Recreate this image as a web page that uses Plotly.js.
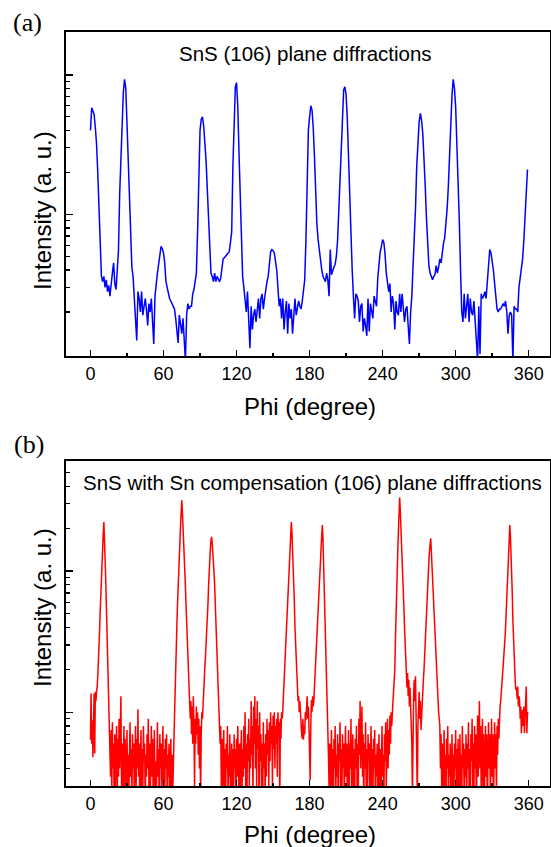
<!DOCTYPE html>
<html>
<head>
<meta charset="utf-8">
<script src="https://cdn.plot.ly/plotly-3.0.1.min.js"></script>
<style>
  html, body { margin: 0; padding: 0; background: #fff; }
  #chart { width: 551px; height: 847px; }
</style>
</head>
<body>
<div id="chart"></div>
<script>
// ---------------- DATA ----------------
// Panel (a): SnS (106) phi scan, 1 degree per point, each row = 10 degrees (0..359)
const phiStepA = 1;
const intensityA = [
  [40, 58, 55, 52, 42, 32, 20, 11, 6.8, 3.6],
  [3.3, 3.6, 3.0, 3.4, 2.8, 3.1, 2.6, 3.3, 3.8, 4.5],
  [3.2, 2.9, 4.6, 5.5, 14, 26, 48, 75, 93, 80],
  [45, 23, 11, 6, 4.2, 3.6, 2.6, 1.8, 1.25, 2.8],
  [2.5, 2.0, 2.8, 1.9, 2.2, 2.5, 2.1, 1.6, 2.3, 2.0],
  [2.5, 1.5, 1.18, 2.6, 3.4, 3.8, 4.4, 5.2, 5.9, 5.7],
  [5.3, 4.5, 3.3, 3.0, 2.7, 2.5, 2.4, 2.3, 2.2, 2.1],
  [1.8, 1.5, 1.2, 1.9, 1.6, 1.4, 1.8, 1.3, 0.9, 1.9],
  [2.3, 2.1, 2.2, 2.2, 2.7, 2.9, 3.3, 3.8, 7.5, 25],
  [40, 48, 50, 43, 33, 24, 15, 9, 6, 3.8],
  [3.6, 3.3, 3.8, 3.3, 3.6, 3.4, 3.3, 3.5, 4.2, 4.8],
  [4.9, 5.0, 5.1, 5.2, 5.4, 6.3, 7.5, 22, 50, 82],
  [88, 60, 28, 12, 5.5, 3.6, 3.0, 2.5, 2.0, 2.8],
  [1.6, 1.1, 2.2, 1.5, 1.9, 2.1, 1.7, 2.2, 2.5, 1.8],
  [2.5, 2.7, 2.1, 2.5, 3.0, 3.3, 3.6, 4.6, 5.4, 5.6],
  [5.5, 5.3, 4.6, 4.0, 3.0, 2.2, 2.5, 1.8, 2.5, 1.5],
  [2.0, 2.4, 1.4, 2.3, 1.8, 2.1, 1.4, 2.0, 2.5, 1.9],
  [2.2, 2.4, 2.2, 2.1, 2.4, 2.8, 3.4, 6.5, 17, 40],
  [50, 60, 56, 42, 26, 13, 8.5, 6.6, 5.4, 4.5],
  [4.0, 3.6, 3.4, 3.3, 3.8, 3.4, 2.6, 5.6, 3.7, 4.0],
  [4.2, 4.4, 5.0, 6.5, 11, 20, 32, 55, 78, 82],
  [72, 48, 25, 12, 6.5, 4.0, 2.6, 1.8, 2.7, 2.6],
  [2.4, 1.7, 2.2, 2.3, 1.45, 1.8, 1.6, 1.35, 2.5, 1.45],
  [2.3, 2.0, 1.8, 2.6, 2.4, 2.2, 3.5, 4.6, 5.4, 5.9],
  [6.6, 6.3, 5.2, 3.8, 3.2, 2.8, 3.2, 2.0, 2.6, 2.3],
  [1.5, 2.4, 2.0, 1.9, 2.7, 2.0, 2.7, 2.2, 1.7, 2.1],
  [2.2, 1.6, 1.18, 2.0, 2.6, 4.3, 6.5, 11, 22, 36],
  [46, 53, 47, 38, 26, 16, 9.5, 5.5, 4.3, 3.8],
  [3.6, 3.4, 3.6, 3.7, 4.3, 3.8, 4.2, 4.8, 4.5, 5.5],
  [6.2, 6.8, 8.3, 11, 16, 29, 50, 72, 93, 80],
  [59, 35, 20, 9, 4.0, 2.0, 1.7, 2.7, 1.8, 2.2],
  [2.7, 1.7, 2.5, 2.0, 1.9, 2.4, 1.7, 1.4, 0.9, 2.2],
  [1.0, 2.7, 2.5, 2.6, 2.8, 2.5, 3.4, 4.6, 5.6, 5.3],
  [4.7, 4.0, 3.2, 2.5, 2.1, 2.0, 2.1, 2.1, 2.2, 2.3],
  [2.2, 2.4, 2.0, 1.4, 1.9, 2.0, 1.9, 0.9, 2.2, 2.1],
  [2.1, 2.0, 3.0, 3.5, 4.0, 4.8, 6.5, 9.5, 13, 21]
];

// Panel (b): SnS with Sn compensation, 0.5 degree per point, each row = 10 degrees (0..359.5)
const phiStepB = 0.5;
const intensityB = [
  [6.4, 13.6, 6.0, 8.8, 4.8, 10, 13.6, 5.1, 14, 12, 14, 15, 18, 22, 28, 38, 52, 72, 95, 120],
  [150, 185, 223, 175, 130, 90, 60, 40, 25, 15, 10, 8, 6.2, 3.5, 7.5, 2.5, 8.5, 4, 6, 2],
  [7, 3, 5.5, 8, 2.5, 6.5, 3.5, 9, 4, 7, 13, 3, 6, 2, 5, 8, 3, 6.5, 2, 4.5],
  [7.5, 3, 5, 2.5, 6, 8.5, 3.5, 5.5, 2, 7, 4, 6, 2.5, 5, 8, 3, 6.5, 4, 10.5, 3.5],
  [6, 2, 5, 7.5, 3, 5.5, 2.5, 8, 4.5, 6, 2, 5, 3.5, 7, 4, 9, 3, 6, 2, 5.5],
  [8, 3.5, 6.5, 2.5, 5, 7.5, 3, 4.5, 2, 6, 8.5, 3.5, 5.5, 2, 7, 4, 6, 2.5, 5, 8],
  [3, 5.5, 2, 6.5, 4, 7, 2.5, 5, 3.5, 6, 2, 4.5, 6.5, 3, 5, 2.5, 5.5, 6, 9, 15],
  [21, 30, 42, 58, 80, 105, 135, 170, 210, 260, 318, 265, 215, 175, 140, 105, 78, 58, 42, 30],
  [22, 17, 13, 11.6, 9, 12, 7, 11, 6, 13, 8, 3, 9, 6, 11, 7, 10, 5, 9, 4],
  [8, 2.5, 7, 10, 9, 12, 14, 17, 21, 25, 30, 36, 45, 58, 78, 102, 125, 145, 165, 175],
  [158, 140, 115, 98, 80, 62, 47, 36, 27, 19, 14, 11, 8.8, 6, 8, 3, 6.5, 2, 5, 7.5],
  [3, 5.5, 2, 6, 4, 8, 2.5, 5, 3.5, 7, 2, 4.5, 6, 3, 5.5, 2, 7, 4, 5.5, 2.5],
  [6.5, 3.5, 8, 4.5, 2, 6, 3, 5, 7.5, 2.5, 5.5, 3.5, 8, 4, 10, 3, 6, 2, 7, 4.5],
  [9, 3, 6.5, 4, 12, 5, 8, 2.5, 11, 6, 13, 4, 9, 3, 12, 5.5, 8, 2, 10, 4.5],
  [7, 3, 6, 2, 8.5, 4, 6, 2.5, 7, 3.5, 9, 5, 7.5, 3, 8.5, 4.5, 10, 6, 8, 3],
  [9.5, 5.5, 10, 4, 8, 6, 9, 3.5, 10, 7, 8.5, 2, 9, 6.5, 10, 9, 10.4, 13, 17, 22],
  [27, 34, 40, 52, 65, 82, 100, 125, 150, 185, 223, 190, 150, 115, 85, 60, 40, 30, 22, 17],
  [14, 12, 13, 10, 12, 9, 8, 7, 6.5, 9, 6.4, 8, 7, 10, 8.8, 12, 13, 9, 11, 7.9],
  [5, 3.3, 8, 12.2, 10, 13, 11, 12, 15, 19, 23, 28, 34, 40, 48, 60, 75, 95, 120, 150],
  [185, 212, 170, 120, 80, 50, 35, 24, 17, 13, 10, 5, 3, 6, 2.5, 5, 7.5, 3, 5.5, 2],
  [6.5, 4, 8, 2.5, 5, 3.5, 7, 2, 6, 4.5, 8.5, 3, 5.5, 2, 7, 4, 6, 2.5, 5, 8],
  [3.5, 6, 2, 5.5, 7.5, 3, 6, 4, 9, 2.5, 5, 7, 3, 5.5, 2, 6.5, 4, 8, 3, 6],
  [2.5, 9, 5, 12, 4, 8, 11, 3.5, 7, 2, 6, 4, 8.5, 3, 5.5, 2, 7, 4.5, 6, 2.5],
  [5, 8, 3, 5.5, 2, 6.5, 4, 7.5, 2.5, 5, 3.5, 6, 2, 4.5, 7, 3, 5.5, 2, 6, 8],
  [3.5, 5, 2, 7, 4.5, 8.5, 3, 6, 9, 4, 7.5, 5, 9.5, 6, 10, 8, 11, 12, 14, 17],
  [20, 32, 55, 80, 110, 145, 195, 255, 332, 270, 215, 170, 130, 95, 72, 55, 40, 29, 22, 18],
  [15, 19, 13, 17, 11, 15, 12, 9, 6, 2.5, 9, 14, 17, 12, 18, 11, 6, 2.5, 8, 11],
  [14, 9, 12, 7.5, 10, 12.7, 14, 17, 20, 26, 32, 38, 45, 58, 75, 95, 118, 140, 165, 171],
  [140, 112, 90, 72, 55, 42, 32, 25, 20, 16, 13, 11, 10, 9, 8, 4, 7, 3, 6, 2],
  [5.5, 7.5, 3, 5, 2, 6.5, 4, 8, 2.5, 5, 3.5, 6, 2, 4.5, 7, 3, 5, 2, 6, 4],
  [7.5, 2.5, 5.5, 3, 6.5, 2, 4.5, 7, 3, 5, 2, 8, 4, 6, 2.5, 5.5, 3.5, 7, 2, 6],
  [4, 8.5, 3, 5.5, 2, 7, 4.5, 9, 3, 6, 2.5, 8, 4, 7, 2, 5.5, 9.5, 3.5, 7, 12],
  [4, 8, 2.5, 6, 9, 3, 7, 2, 5.5, 8, 3.5, 7, 2, 6, 8.5, 4, 7, 2.5, 6, 9],
  [3.5, 7, 2, 6, 8.5, 4, 7, 2.5, 8, 5, 9, 6.5, 9.8, 11, 12, 13.6, 16, 19, 22, 26],
  [29, 33, 40, 50, 65, 85, 110, 145, 185, 212, 175, 135, 100, 70, 45, 32, 24, 18, 16, 14.4],
  [15, 12.5, 15.2, 11, 13, 12.2, 9, 11, 7.1, 9, 10.4, 8, 11, 7.1, 9, 12, 15.2, 7.1, 10, 9.8]
];

const xTickVals = [0, 60, 120, 180, 240, 300, 360];
const xTickText = ['0', '60', '120', '180', '240', '300', '360'];
const titleA = 'SnS (106) plane diffractions';
const titleB = 'SnS with Sn compensation (106) plane diffractions';
const xTitle = 'Phi (degree)';
const yTitle = 'Intensity (a. u.)';
const panelLabels = ['(a)', '(b)'];

// ---------------- BUILD ----------------
function flatten(rows, step) {
  const x = [], y = [];
  rows.forEach((row, r) => row.forEach((v, j) => { x.push(r * 10 + j * step); y.push(v); }));
  return { x, y };
}
const A = flatten(intensityA, phiStepA);
const B = flatten(intensityB, phiStepB);

const W = 551, H = 847;
const M = { l: 66, r: 1, t: 32, b: 61 };
const PW = W - M.l - M.r, PH = H - M.t - M.b;
const px = (x) => (x - M.l) / PW;
const py = (y) => (H - M.b - y) / PH;

const sans = 'Liberation Sans, Arial, sans-serif';
const serif = 'Liberation Serif, Times New Roman, serif';

const xBase = {
  range: [-20.1, 377.5],
  tickmode: 'array', tickvals: xTickVals, ticktext: xTickText,
  ticks: 'inside', ticklen: 6, tickwidth: 1.5, tickcolor: '#000',
  minor: { tickmode: 'array', tickvals: [30, 90, 150, 210, 270, 330], ticks: 'inside', ticklen: 3, tickwidth: 1.5, tickcolor: '#000' },
  showline: true, linecolor: '#000', linewidth: 2, mirror: true,
  showgrid: false, zeroline: false,
  tickfont: { family: sans, size: 18, color: '#000' }
};
function yBase(range, domain, minorVals) {
  return {
    type: 'log', range: range, domain: domain,
    tickmode: 'array', tickvals: [10, 100], showticklabels: false,
    ticks: 'inside', ticklen: 7, tickwidth: 1.5, tickcolor: '#000',
    minor: { tickmode: 'array', tickvals: minorVals, ticks: 'inside', ticklen: 4, tickwidth: 1.2, tickcolor: '#000' },
    showline: true, linecolor: '#000', linewidth: 2, mirror: true,
    showgrid: false, zeroline: false
  };
}

const traces = [
  { x: A.x, y: A.y, type: 'scatter', mode: 'lines', line: { color: '#0000FF', width: 1.5 }, xaxis: 'x', yaxis: 'y', hoverinfo: 'skip' },
  { x: B.x, y: B.y, type: 'scatter', mode: 'lines', line: { color: '#FF0000', width: 1.5 }, xaxis: 'x2', yaxis: 'y2', hoverinfo: 'skip' }
];

const domA = [py(356), 1];
const domB = [0, py(461)];

const ann = (text, x, y, size, font, extra) => Object.assign({
  text: text, xref: 'paper', yref: 'paper', x: px(x), y: py(y),
  xanchor: 'center', yanchor: 'middle', showarrow: false,
  font: { family: font, size: size, color: '#000' }
}, extra || {});

const layout = {
  width: W, height: H,
  margin: M,
  paper_bgcolor: '#fff', plot_bgcolor: '#fff',
  showlegend: false,
  xaxis: Object.assign({}, xBase, { anchor: 'y' }),
  xaxis2: Object.assign({}, xBase, { anchor: 'y2' }),
  yaxis: yBase([-0.014, 2.307], domA, [2,3,4,5,6,7,8,9,20,30,40,50,60,70,80,90,200]),
  yaxis2: yBase([0.478, 2.78], domB, [4,5,6,7,8,9,20,30,40,50,60,70,80,90,200,300,400,500,600]),
  annotations: [
    ann(titleA, 305, 54, 20.5, sans),
    ann(titleB, 312, 482, 20.5, sans),
    ann(xTitle, 310, 406, 24, sans),
    ann(xTitle, 310, 834, 24, sans),
    ann(yTitle, 42, 211, 24, sans, { textangle: -90 }),
    ann(yTitle, 42, 608, 24, sans, { textangle: -90 }),
    ann(panelLabels[0], 27, 22, 26, serif),
    ann(panelLabels[1], 29, 444, 26, serif)
  ]
};

Plotly.newPlot('chart', traces, layout, { staticPlot: true, displayModeBar: false });
</script>
</body>
</html>
